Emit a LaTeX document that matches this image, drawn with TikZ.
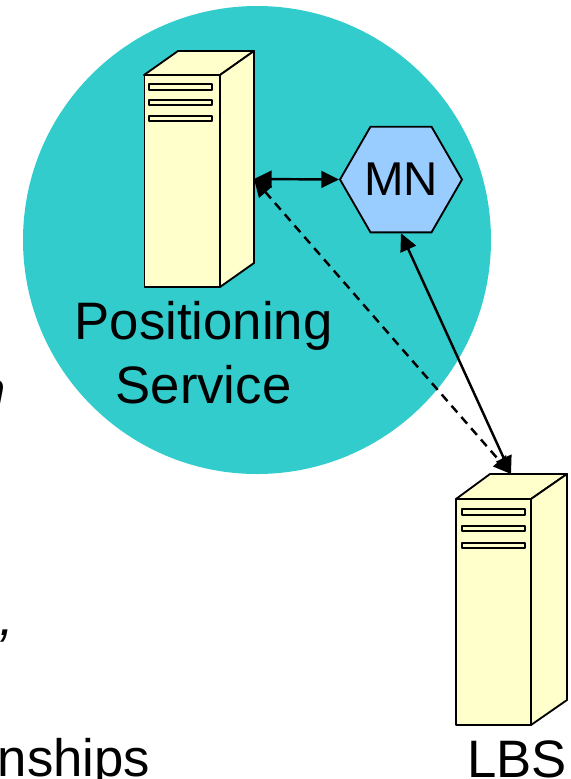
\documentclass[tikz,border=0pt]{standalone}
\usepackage{fontspec}
\setmainfont{Liberation Sans}
\usetikzlibrary{arrows.meta,shapes.geometric}
\definecolor{zone}{HTML}{33CCCC}
\definecolor{tower}{HTML}{FFFFCC}
\definecolor{hexblue}{HTML}{99CCFF}
\begin{document}
\begin{tikzpicture}[x=0.02cm, y=-0.02cm]

      \tikzstyle{tower_style} = [draw=black, fill=tower, line width=1.05pt, line join=round]
      \tikzstyle{front_style} = [tower_style, rectangle, inner sep=0pt, minimum width=75*0.02cm]
      \tikzstyle{slot_style} = [tower_style, rectangle, inner sep=0pt, minimum width=63*0.02cm, line width=1pt]
      \tikzstyle{hex_style} = [regular polygon, regular polygon sides=6, draw=black, fill=hexblue, line width=1.05pt, minimum size=122*0.02cm, inner sep=0pt, font=\fontsize{27}{32}\selectfont]
      \tikzstyle{label_style} = [font=\fontsize{30}{36.5}\selectfont, align=center, inner sep=0pt]
      \tikzstyle{cut_style} = [font=\fontsize{30}{36}\selectfont\itshape, inner sep=0pt]
      \tikzstyle{link_style} = [{Triangle[length=10pt,width=9.5pt]}-{Triangle[length=10pt,width=9.5pt]}, line width=1.4pt]

      \useasboundingbox (0,0) rectangle (571,779);

      \fill[zone] (257,240) circle (234);

      % positioning server
      \draw[tower_style] (144,75) -- (178,51) -- (254,51) -- (220,75) -- cycle;
      \draw[tower_style] (220,75) -- (254,51) -- (254,263) -- (220,287) -- cycle;
      \node[front_style, minimum height=212*0.02cm] (ps) at (182,181) {};
      \node[slot_style, minimum height=6*0.02cm] (ps1) at (180.5,87) {};
      \node[slot_style, minimum height=5*0.02cm] (ps2) at (180.5,102.5) {};
      \node[slot_style, minimum height=5*0.02cm] (ps3) at (180.5,118.5) {};
      \coordinate (ps_port) at (254,179);

      % lbs server
      \draw[tower_style] (456,499) -- (490,474) -- (567,474) -- (531,499) -- cycle;
      \draw[tower_style] (531,499) -- (567,474) -- (567,700) -- (531,725) -- cycle;
      \node[front_style, minimum height=226*0.02cm] (lbs) at (493.5,612) {};
      \node[slot_style, minimum height=6*0.02cm] (lbs1) at (493.5,512) {};
      \node[slot_style, minimum height=5*0.02cm] (lbs2) at (493.5,528.5) {};
      \node[slot_style, minimum height=5*0.02cm] (lbs3) at (493.5,545.5) {};
      \coordinate (lbs_port) at (511,474);

      \node[hex_style] (mn) at (401,179.5) {MN};
      \node[label_style] (ps_label) at (203.5,352.5) {Positioning\\Service};
      \node[label_style, anchor=base] (lbs_label) at (517,777) {LBS};

      % cut off text at the left edge
      \node[label_style, anchor=base east] (rel_text) at (150.5,776.5) {nships};
      \node[cut_style, anchor=base west] (comma_text) at (-1,635) {,};
      \node[cut_style, font=\fontsize{30}{36}\selectfont\bfseries\itshape, anchor=base east] (stem_text) at (6,408) {n};

      \draw[link_style] (ps_port) -- (mn.west);
      \draw[link_style] (mn.south) -- (lbs_port);
      \draw[link_style, dash pattern=on 5pt off 3.5pt] (ps_port) -- (lbs_port);
\end{tikzpicture}
\end{document}
